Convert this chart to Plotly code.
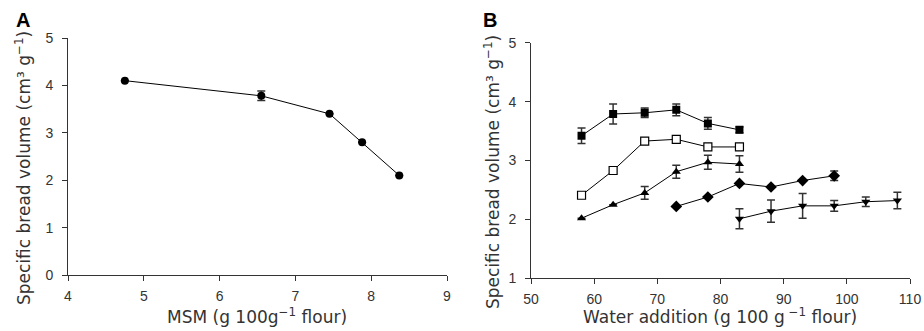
import plotly.graph_objects as go

# Panel A data
msm_x = [4.75, 6.55, 7.45, 7.88, 8.37]
msm_y = [4.10, 3.78, 3.40, 2.80, 2.10]
msm_err = [0.0, 0.10, 0.0, 0.0, 0.0]

# Panel B data
sq_x = [58, 63, 68, 73, 78, 83]
sq_y = [3.42, 3.79, 3.81, 3.86, 3.63, 3.52]
sq_err = [0.13, 0.17, 0.08, 0.10, 0.10, 0.05]

osq_x = [58, 63, 68, 73, 78, 83]
osq_y = [2.41, 2.83, 3.33, 3.36, 3.23, 3.23]

tri_x = [58, 63, 68, 73, 78, 83]
tri_y = [2.02, 2.25, 2.45, 2.81, 2.97, 2.94]
tri_err = [0.0, 0.0, 0.11, 0.11, 0.12, 0.14]

dia_x = [73, 78, 83, 88, 93, 98]
dia_y = [2.22, 2.38, 2.61, 2.55, 2.66, 2.74]
dia_err = [0.0, 0.0, 0.0, 0.0, 0.0, 0.08]

tdn_x = [83, 88, 93, 98, 103, 108]
tdn_y = [2.01, 2.14, 2.23, 2.23, 2.30, 2.32]
tdn_err = [0.17, 0.19, 0.21, 0.09, 0.08, 0.14]

FONT = "Liberation Sans, Arial, sans-serif"
TFONT = "DejaVu Sans, Liberation Sans, sans-serif"
TXT = "#333333"

def err(arr):
    return dict(type="data", array=arr, visible=True, color="#333333", thickness=1.5, width=4)

line = dict(color="black", width=1)

fig = go.Figure()
fig.add_trace(go.Scatter(x=msm_x, y=msm_y, mode="lines+markers", line=line,
                         marker=dict(symbol="circle", size=8, color="black"),
                         error_y=err(msm_err), xaxis="x", yaxis="y"))
fig.add_trace(go.Scatter(x=sq_x, y=sq_y, mode="lines+markers", line=line,
                         marker=dict(symbol="square", size=8, color="black"),
                         error_y=err(sq_err), xaxis="x2", yaxis="y2"))
fig.add_trace(go.Scatter(x=osq_x, y=osq_y, mode="lines+markers", line=line,
                         marker=dict(symbol="square", size=8, color="white",
                                     line=dict(color="black", width=1.2)),
                         xaxis="x2", yaxis="y2"))
fig.add_trace(go.Scatter(x=tri_x, y=tri_y, mode="lines+markers", line=line,
                         marker=dict(symbol="triangle-up", size=8, color="black"),
                         error_y=err(tri_err), xaxis="x2", yaxis="y2"))
fig.add_trace(go.Scatter(x=dia_x, y=dia_y, mode="lines+markers", line=line,
                         marker=dict(symbol="diamond", size=9, color="black"),
                         error_y=err(dia_err), xaxis="x2", yaxis="y2"))
fig.add_trace(go.Scatter(x=tdn_x, y=tdn_y, mode="lines+markers", line=line,
                         marker=dict(symbol="triangle-down", size=8, color="black"),
                         error_y=err(tdn_err), xaxis="x2", yaxis="y2"))

W, H = 924, 331
def px(x):
    return x / W
def py(y):
    return (H - y) / H

axis_common = dict(showgrid=False, zeroline=False, showline=True, linecolor="#333333",
                   linewidth=1, ticks="outside", ticklen=5, tickcolor="#333333",
                   automargin=False,
                   tickfont=dict(family=FONT, size=14, color=TXT))

fig.update_layout(
    width=W, height=H, margin=dict(l=0, r=0, t=0, b=0),
    paper_bgcolor="white", plot_bgcolor="white", showlegend=False,
    xaxis=dict(domain=[px(68), px(447)], range=[4, 9], dtick=1, anchor="y",
               ticklabelstandoff=3, **axis_common),
    yaxis=dict(domain=[py(275), py(38)], range=[0, 5], dtick=1, anchor="x",
               ticklabelstandoff=6, **axis_common),
    xaxis2=dict(domain=[px(531), px(910)], range=[50, 110], dtick=10, anchor="y2",
                ticklabelstandoff=3, **axis_common),
    yaxis2=dict(domain=[py(278.3), py(42.7)], range=[1, 5], dtick=1, anchor="x2",
                ticklabelstandoff=6, **axis_common),
)

tfont = dict(family=TFONT, size=17, color=TXT)
ann = [
    dict(text="<b>A</b>", x=px(23), y=py(20), font=dict(family=FONT, size=20, color="black")),
    dict(text="<b>B</b>", x=px(490), y=py(20), font=dict(family=FONT, size=20, color="black")),
    dict(text="MSM (g 100g<sup>−1</sup> flour)", x=px(257), y=py(316), font=tfont),
    dict(text="Water addition (g 100 g<sup> −1</sup> flour)", x=px(720), y=py(316), font=tfont),
    dict(text="Specific bread volume (cm³ g<sup>−1</sup>)", x=px(23), y=py(168), font=tfont, textangle=-90),
    dict(text="Specific bread volume (cm³ g<sup>−1</sup>)", x=px(492), y=py(172), font=tfont, textangle=-90),
]
for a in ann:
    fig.add_annotation(xref="paper", yref="paper", showarrow=False,
                       xanchor="center", yanchor="middle", **a)

fig.write_html("out.html")
